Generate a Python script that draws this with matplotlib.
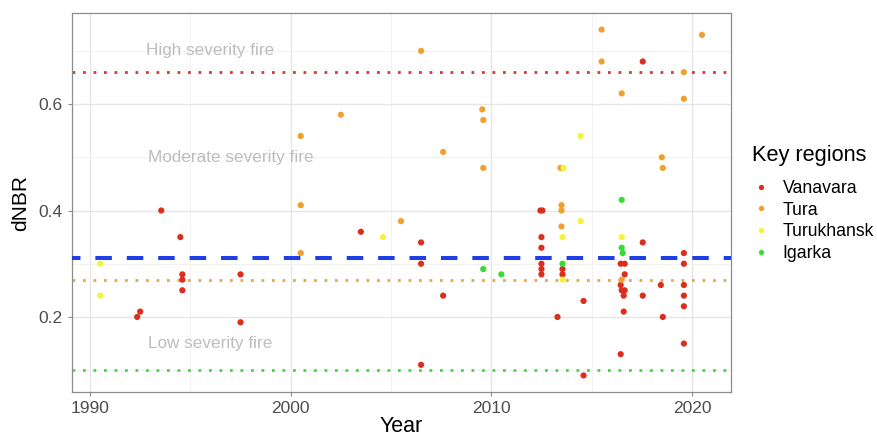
import matplotlib.pyplot as plt
from matplotlib.lines import Line2D

plt.rcParams["font.family"] = ["Liberation Sans", "DejaVu Sans"]

# values
regions = ["Vanavara", "Tura", "Turukhansk", "Igarka"]
colors = {"Vanavara": "#DC2E1C", "Tura": "#EFA02E", "Turukhansk": "#F4F23A", "Igarka": "#35DD35"}

vanavara_year = [1992.35, 1992.5, 1993.55, 1994.5, 1994.6, 1994.6, 1994.6, 1997.5, 1997.5,
                 2003.5, 2006.5, 2006.5, 2006.5, 2007.6,
                 2012.45, 2012.55, 2012.5, 2012.5, 2012.5, 2012.5, 2012.5,
                 2013.55, 2013.55, 2013.3, 2014.6, 2014.6,
                 2016.45, 2016.65, 2016.65, 2016.45, 2016.5, 2016.65, 2016.6, 2016.6, 2016.45,
                 2017.55, 2017.55, 2017.55,
                 2018.45, 2018.55,
                 2019.6, 2019.6, 2019.6, 2019.6, 2019.6, 2019.6]
vanavara_dnbr = [0.20, 0.21, 0.40, 0.35, 0.28, 0.27, 0.25, 0.28, 0.19,
                 0.36, 0.34, 0.30, 0.11, 0.24,
                 0.40, 0.40, 0.35, 0.33, 0.30, 0.29, 0.28,
                 0.29, 0.28, 0.20, 0.23, 0.09,
                 0.30, 0.30, 0.28, 0.26, 0.25, 0.25, 0.24, 0.21, 0.13,
                 0.68, 0.34, 0.24,
                 0.26, 0.20,
                 0.32, 0.30, 0.26, 0.24, 0.22, 0.15]

tura_year = [2000.5, 2000.5, 2000.5, 2002.5, 2005.5, 2006.5, 2007.6,
             2009.55, 2009.6, 2009.6, 2013.45, 2013.5, 2013.5, 2013.5,
             2015.5, 2015.5, 2016.5, 2016.5, 2018.5, 2018.55, 2019.6, 2019.6, 2020.5]
tura_dnbr = [0.54, 0.41, 0.32, 0.58, 0.38, 0.70, 0.51,
             0.59, 0.57, 0.48, 0.48, 0.41, 0.40, 0.37,
             0.74, 0.68, 0.62, 0.27, 0.50, 0.48, 0.66, 0.61, 0.73]

turukhansk_year = [1990.5, 1990.5, 2004.6, 2013.6, 2013.55, 2013.55, 2014.45, 2014.45, 2016.5]
turukhansk_dnbr = [0.30, 0.24, 0.35, 0.48, 0.35, 0.27, 0.54, 0.38, 0.35]

igarka_year = [2009.6, 2010.5, 2013.55, 2016.5, 2016.5, 2016.55]
igarka_dnbr = [0.29, 0.28, 0.30, 0.42, 0.33, 0.32]

mean_dnbr = 0.31
thresholds = {"high": 0.66, "moderate": 0.27, "low": 0.10}
labels = [("High severity fire", 1996.0, 0.70),
          ("Moderate severity fire", 1997.0, 0.50),
          ("Low severity fire", 1996.0, 0.15)]

series = {
    "Vanavara": (vanavara_year, vanavara_dnbr),
    "Tura": (tura_year, tura_dnbr),
    "Turukhansk": (turukhansk_year, turukhansk_dnbr),
    "Igarka": (igarka_year, igarka_dnbr),
}

fig = plt.figure(figsize=(8.78, 4.36), dpi=100)
ax = fig.add_axes([0.082, 0.101, 0.7506, 0.869])

ax.set_xlim(1989.1, 2021.95)
ax.set_ylim(0.059, 0.771)
ax.set_xticks([1990, 2000, 2010, 2020])
ax.set_xticks([1995, 2005, 2015], minor=True)
ax.set_yticks([0.2, 0.4, 0.6])
ax.set_yticks([0.1, 0.3, 0.5, 0.7], minor=True)
ax.set_yticklabels(["0.2", "0.4", "0.6"])
ax.grid(which="major", color="#E6E6E6", lw=1.0, zorder=0)
ax.grid(which="minor", color="#F2F2F2", lw=0.7, zorder=0)
for s in ax.spines.values():
    s.set_color("#8C8C8C")
    s.set_linewidth(0.9)
ax.tick_params(which="major", length=3, color="#8C8C8C", labelsize=12.5, labelcolor="#4D4D4D")
ax.tick_params(which="minor", length=0)

dots = (0, (1, 2.78))
ax.axhline(thresholds["high"], color="#D9382A", lw=2, ls=dots, zorder=2)
ax.axhline(thresholds["moderate"], color="#EAA54A", lw=2, ls=dots, zorder=2)
ax.axhline(thresholds["low"], color="#43D843", lw=2, ls=dots, zorder=2)

for name in regions:
    xs, ys = series[name]
    ax.scatter(xs, ys, s=20, color=colors[name], edgecolors="none", zorder=3)

ax.axhline(mean_dnbr, color="#1E3FE6", lw=2.9, ls=(2.0, (4.1, 3.7)), zorder=4)

for txt, x, y in labels:
    ax.text(x, y, txt, color="#BDBDBD", fontsize=12.3, ha="center", va="center", zorder=2)

ax.set_xlabel("Year", fontsize=15.5, labelpad=0)
ax.set_ylabel("dNBR", fontsize=15, labelpad=6)

# legend title drawn on its own so the gap below it matches the reference
fig.text(0.857, 1 - 155 / 436, "Key regions", fontsize=15.7, ha="left", va="center")
handles = [Line2D([], [], marker="o", ls="none", markersize=3.8, markerfacecolor=colors[n],
                  markeredgecolor="none", label=n) for n in regions]
fig.legend(handles=handles, loc="upper left", bbox_to_anchor=(0.857, 1 - 180 / 436),
           frameon=False, fontsize=12.7, handlelength=1.0, handletextpad=0.7,
           labelspacing=0.26, borderpad=0, borderaxespad=0)

fig.savefig("out.png", dpi=100)
plt.close()
